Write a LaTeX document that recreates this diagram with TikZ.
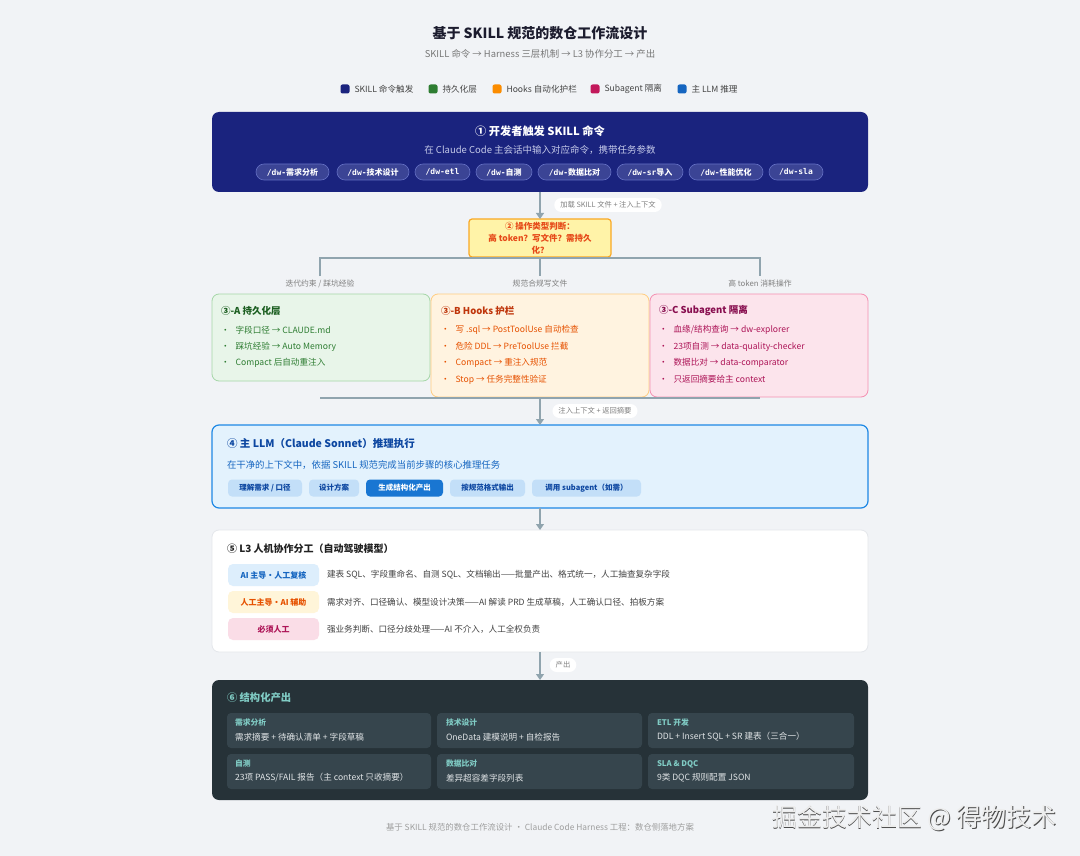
\documentclass[tikz,border=0pt]{standalone}
\usepackage{fontspec}
\setmainfont{Noto Sans CJK SC}
\setmonofont{DejaVu Sans Mono}
\usetikzlibrary{arrows.meta,positioning}

\definecolor{pagebg}{HTML}{F1F3F6}
\definecolor{titleink}{HTML}{1C1C2E}
\definecolor{subink}{HTML}{777777}
\definecolor{legendink}{HTML}{444444}
\definecolor{navy}{HTML}{1A237E}
\definecolor{navypill}{HTML}{3B4495}
\definecolor{navyline}{HTML}{6470C4}
\definecolor{navysub}{HTML}{C5CAE9}
\definecolor{keygreen}{HTML}{2E7D32}
\definecolor{keyorange}{HTML}{FB8C00}
\definecolor{keyred}{HTML}{C2185B}
\definecolor{keyblue}{HTML}{1565C0}
\definecolor{linegray}{HTML}{90A4AE}
\definecolor{labgray}{HTML}{808080}
\definecolor{judgefill}{HTML}{FFF3A8}
\definecolor{judgeline}{HTML}{F9A825}
\definecolor{judgeink}{HTML}{E64A19}
\definecolor{afill}{HTML}{E8F5E9}
\definecolor{aline}{HTML}{A5D6A7}
\definecolor{ahead}{HTML}{1B5E20}
\definecolor{aink}{HTML}{2E7D32}
\definecolor{bfill}{HTML}{FFF3E0}
\definecolor{bline}{HTML}{FFCC80}
\definecolor{bhead}{HTML}{BF360C}
\definecolor{bink}{HTML}{E65100}
\definecolor{cfill}{HTML}{FCE4EC}
\definecolor{cline}{HTML}{F48FB1}
\definecolor{chead}{HTML}{880E4F}
\definecolor{cink}{HTML}{AD1457}
\definecolor{llmfill}{HTML}{E3F2FD}
\definecolor{llmline}{HTML}{1E88E5}
\definecolor{llmhead}{HTML}{0D47A1}
\definecolor{llmink}{HTML}{1565C0}
\definecolor{chipfill}{HTML}{C3DFF8}
\definecolor{chipdark}{HTML}{1976D2}
\definecolor{splitline}{HTML}{E4E7EB}
\definecolor{splithead}{HTML}{212121}
\definecolor{splitink}{HTML}{424242}
\definecolor{tagblue}{HTML}{DDEEFC}
\definecolor{tagamber}{HTML}{FFF5D9}
\definecolor{tagpink}{HTML}{FADDE7}
\definecolor{outfill}{HTML}{263238}
\definecolor{outcell}{HTML}{36454D}
\definecolor{outhead}{HTML}{80CBC4}
\definecolor{outink}{HTML}{E0E4E6}
\definecolor{footink}{HTML}{9E9E9E}

\newcommand{\dwcmd}[2]{{\ttfamily\bfseries #1}{\bfseries #2}}

\tikzset{
  every node/.style={inner sep=0pt, outer sep=0pt},
  conn/.style={draw=linegray, line width=1.2pt},
  arr/.style={conn, -{Triangle[length=6pt,width=8pt]}},
  flowlabel/.style={fill=white, rounded corners=7pt, minimum height=14pt, inner xsep=6pt,
    text=labgray, font=\fontsize{7.3}{8}\selectfont},
  branchlabel/.style={text=labgray, font=\fontsize{7.8}{9}\selectfont},
  legendkey/.style={rectangle, rounded corners=2pt, minimum size=9pt},
  legendtext/.style={anchor=west, text=legendink, font=\fontsize{8.6}{10}\selectfont},
  stage/.style={rectangle, rounded corners=7pt, minimum width=656pt},
  lane/.style={rectangle, rounded corners=7pt, minimum width=218pt, line width=0.8pt},
  lanehead/.style={anchor=west, font=\bfseries\fontsize{9.5}{11}\selectfont},
  laneitem/.style={anchor=west, font=\fontsize{8.6}{10}\selectfont},
  cmdpill/.style={fill=navypill, draw=navyline, line width=0.6pt, rounded corners=8pt,
    minimum height=16pt, text=white, font=\fontsize{8}{9}\selectfont},
  chip/.style={fill=chipfill, rounded corners=4pt, minimum height=17pt, text=llmhead,
    font=\bfseries\fontsize{7.5}{9}\selectfont},
  roletag/.style={rounded corners=5pt, minimum width=91pt, minimum height=22pt,
    font=\bfseries\fontsize{8}{9}\selectfont},
  roledesc/.style={anchor=west, text=splitink, font=\fontsize{8.6}{10}\selectfont},
  outbox/.style={fill=outcell, rounded corners=4pt, minimum height=35pt},
  outlabel/.style={anchor=west, text=outhead, font=\bfseries\fontsize{7.8}{9}\selectfont},
  outtext/.style={anchor=west, text=outink, font=\fontsize{8.6}{10}\selectfont}
}

\begin{document}
\begin{tikzpicture}[x=1pt,y=-1pt]
  \fill[pagebg] (0,0) rectangle (1080,856);
  \useasboundingbox (0,0) rectangle (1080,856);

  % title and legend
  \node[text=titleink, font=\bfseries\fontsize{14}{16}\selectfont] (title) at (540,33) {基于 SKILL 规范的数仓工作流设计};
  \node[text=subink, font=\fontsize{9.4}{11}\selectfont] (subtitle) at (540,54) {SKILL 命令 → Harness 三层机制 → L3 协作分工 → 产出};

  \node[legendkey, fill=navy] (k1) at (345,89) {};
  \node[legendkey, fill=keygreen] (k2) at (433,89) {};
  \node[legendkey, fill=keyorange] (k3) at (497,89) {};
  \node[legendkey, fill=keyred] (k4) at (595,89) {};
  \node[legendkey, fill=keyblue] (k5) at (682,89) {};
  \node[legendtext, right=5pt of k1] (t1) {SKILL 命令触发};
  \node[legendtext, right=5pt of k2] (t2) {持久化层};
  \node[legendtext, right=5pt of k3] (t3) {Hooks 自动化护栏};
  \node[legendtext, right=5pt of k4] (t4) {Subagent 隔离};
  \node[legendtext, right=5pt of k5] (t5) {主 LLM 推理};

  % stage 1
  \node[stage, fill=navy, minimum height=80pt] (skill) at (540,152) {};
  \node[text=white, font=\bfseries\fontsize{11.2}{13}\selectfont] (skillhead) at (540,131) {① 开发者触发 SKILL 命令};
  \node[text=navysub, font=\fontsize{9.5}{11}\selectfont] (skillsub) at (540,150) {在 Claude Code 主会话中输入对应命令，携带任务参数};
  \node[cmdpill, minimum width=73pt] (c1) at (292.5,172) {\dwcmd{/dw-}{需求分析}};
  \node[cmdpill, minimum width=72pt] (c2) at (373,172) {\dwcmd{/dw-}{技术设计}};
  \node[cmdpill, minimum width=55pt] (c3) at (442.5,172) {\dwcmd{/dw-etl}{}};
  \node[cmdpill, minimum width=56pt] (c4) at (504,172) {\dwcmd{/dw-}{自测}};
  \node[cmdpill, minimum width=73pt] (c5) at (574.5,172) {\dwcmd{/dw-}{数据比对}};
  \node[cmdpill, minimum width=66pt] (c6) at (650,172) {\dwcmd{/dw-sr}{导入}};
  \node[cmdpill, minimum width=74pt] (c7) at (726,172) {\dwcmd{/dw-}{性能优化}};
  \node[cmdpill, minimum width=54pt] (c8) at (796,172) {\dwcmd{/dw-sla}{}};

  % stage 2
  \node[rectangle, rounded corners=3pt, fill=judgefill, draw=judgeline, line width=1.2pt,
        minimum width=142pt, minimum height=38pt] (judge) at (540,238) {};
  \node[text=judgeink, align=center, font=\bfseries\fontsize{8.5}{12}\selectfont] (judgetext) at (540,238)
        {② 操作类型判断：\\高 token？写文件？需持久\\化？};
  \draw[arr] (skill.south) -- (judge.north);
  \node[flowlabel] (lab1) at (608,205) {加载 SKILL 文件 + 注入上下文};

  \coordinate (fork) at (540,258);
  \coordinate (brA) at (320,276);
  \coordinate (brB) at (540,276);
  \coordinate (brC) at (760,276);
  \draw[conn] (judge.south) -- (brB);
  \draw[conn] (brA) |- (fork) -| (brC);
  \node[branchlabel] (labA) at (320,284) {迭代约束 / 踩坑经验};
  \node[branchlabel] (labB) at (540,284) {规范合规写文件};
  \node[branchlabel] (labC) at (760,284) {高 token 消耗操作};

  % stage 3
  \node[lane, fill=afill, draw=aline, minimum height=87pt] (laneA) at (321,337.5) {};
  \node[lane, fill=bfill, draw=bline, minimum height=103pt] (laneB) at (540,345.5) {};
  \node[lane, fill=cfill, draw=cline, minimum height=103pt] (laneC) at (759,345.5) {};

  \node[lanehead, text=ahead] (headA) at (221,311) {③-A 持久化层};
  \node[laneitem, text=aink] (a1) at (221,330) {•\hspace{6pt}字段口径 → CLAUDE.md};
  \node[laneitem, text=aink] (a2) at (221,346.5) {•\hspace{6pt}踩坑经验 → Auto Memory};
  \node[laneitem, text=aink] (a3) at (221,363) {•\hspace{6pt}Compact 后自动重注入};

  \node[lanehead, text=bhead] (headB) at (441,311) {③-B Hooks 护栏};
  \node[laneitem, text=bink] (b1) at (441,330) {•\hspace{6pt}写 .sql → PostToolUse 自动检查};
  \node[laneitem, text=bink] (b2) at (441,346.5) {•\hspace{6pt}危险 DDL → PreToolUse 拦截};
  \node[laneitem, text=bink] (b3) at (441,363) {•\hspace{6pt}Compact → 重注入规范};
  \node[laneitem, text=bink] (b4) at (441,379.5) {•\hspace{6pt}Stop → 任务完整性验证};

  \node[lanehead, text=chead] (headC) at (659,311) {③-C Subagent 隔离};
  \node[laneitem, text=cink] (c1i) at (659,330) {•\hspace{6pt}血缘/结构查询 → dw-explorer};
  \node[laneitem, text=cink] (c2i) at (659,346.5) {•\hspace{6pt}23项自测 → data-quality-checker};
  \node[laneitem, text=cink] (c3i) at (659,363) {•\hspace{6pt}数据比对 → data-comparator};
  \node[laneitem, text=cink] (c4i) at (659,379.5) {•\hspace{6pt}只返回摘要给主 context};

  \coordinate (mgA) at (320,398);
  \coordinate (mgB) at (540,398);
  \coordinate (mgC) at (760,398);
  \draw[conn] (mgA) -- (mgC);

  % stage 4
  \node[stage, fill=llmfill, draw=llmline, line width=1.2pt, minimum height=83pt] (llm) at (540,466.5) {};
  \draw[arr] (mgB) -- (llm.north);
  \node[flowlabel] (lab2) at (595,411) {注入上下文 + 返回摘要};
  \node[anchor=west, text=llmhead, font=\bfseries\fontsize{10.5}{12}\selectfont] (llmhead) at (227,444) {④ 主 LLM（Claude Sonnet）推理执行};
  \node[anchor=west, text=llmink, font=\fontsize{9.4}{11}\selectfont] (llmsub) at (227,465) {在干净的上下文中，依据 SKILL 规范完成当前步骤的核心推理任务};
  \node[chip, minimum width=74pt] (s1) at (265,488) {理解需求 / 口径};
  \node[chip, minimum width=50pt] (s2) at (334,488) {设计方案};
  \node[chip, minimum width=77pt, fill=chipdark, text=white] (s3) at (404.5,488) {生成结构化产出};
  \node[chip, minimum width=75pt] (s4) at (487.5,488) {按规范格式输出};
  \node[chip, minimum width=109pt] (s5) at (586.5,488) {调用 subagent（如需）};

  % stage 5
  \node[stage, fill=white, draw=splitline, line width=0.8pt, minimum height=122pt] (split) at (540,591) {};
  \draw[arr] (llm.south) -- (split.north);
  \node[anchor=west, text=splithead, font=\bfseries\fontsize{10}{12}\selectfont] (splithead) at (227,549) {⑤ L3 人机协作分工（自动驾驶模型）};
  \node[roletag, fill=tagblue, text=keyblue] (r1) at (273.5,575) {AI 主导·人工复核};
  \node[roletag, fill=tagamber, text=bink] (r2) at (273.5,602) {人工主导·AI 辅助};
  \node[roletag, fill=tagpink, text=cink] (r3) at (273.5,629) {必须人工};
  \node[roledesc] (d1) at (327,575) {建表 SQL、字段重命名、自测 SQL、文档输出——批量产出、格式统一，人工抽查复杂字段};
  \node[roledesc] (d2) at (327,602) {需求对齐、口径确认、模型设计决策——AI 解读 PRD 生成草稿，人工确认口径、拍板方案};
  \node[roledesc] (d3) at (327,629) {强业务判断、口径分歧处理——AI 不介入，人工全权负责};

  % stage 6
  \node[stage, fill=outfill, minimum height=120pt] (output) at (540,740) {};
  \draw[arr] (split.south) -- (output.north);
  \node[flowlabel] (lab3) at (563,665) {产出};
  \node[anchor=west, text=outhead, font=\bfseries\fontsize{10.3}{12}\selectfont] (outhead) at (227,698) {⑥ 结构化产出};

  \node[outbox, minimum width=204pt] (o1) at (329,730.5) {};
  \node[outbox, minimum width=205pt] (o2) at (539.5,730.5) {};
  \node[outbox, minimum width=206pt] (o3) at (751,730.5) {};
  \node[outbox, minimum width=204pt] (o4) at (329,771.5) {};
  \node[outbox, minimum width=205pt] (o5) at (539.5,771.5) {};
  \node[outbox, minimum width=206pt] (o6) at (751,771.5) {};

  \node[outlabel] (l1) at (235,723) {需求分析};
  \node[outtext] (x1) at (235,737) {需求摘要 + 待确认清单 + 字段草稿};
  \node[outlabel] (l2) at (446,723) {技术设计};
  \node[outtext] (x2) at (446,737) {OneData 建模说明 + 自检报告};
  \node[outlabel] (l3) at (657,723) {ETL 开发};
  \node[outtext] (x3) at (657,737) {DDL + Insert SQL + SR 建表（三合一）};
  \node[outlabel] (l4) at (235,764) {自测};
  \node[outtext] (x4) at (235,778) {23项 PASS/FAIL 报告（主 context 只收摘要）};
  \node[outlabel] (l5) at (446,764) {数据比对};
  \node[outtext] (x5) at (446,778) {差异超容差字段列表};
  \node[outlabel] (l6) at (657,764) {SLA \& DQC};
  \node[outtext] (x6) at (657,778) {9类 DQC 规则配置 JSON};

  % footer and watermark
  \node[text=footink, font=\fontsize{8.4}{10}\selectfont] (footer) at (540,827) {基于 SKILL 规范的数仓工作流设计 · Claude Code Harness 工程：数仓侧落地方案};
  \node[anchor=west, text=black!70, font=\fontsize{25}{28}\selectfont] (markshade) at (772.8,818.8) {掘金技术社区 @ 得物技术};
  \node[anchor=west, text=white!93!black, font=\fontsize{25}{28}\selectfont] (mark) at (772,818) {掘金技术社区 @ 得物技术};
\end{tikzpicture}
\end{document}
